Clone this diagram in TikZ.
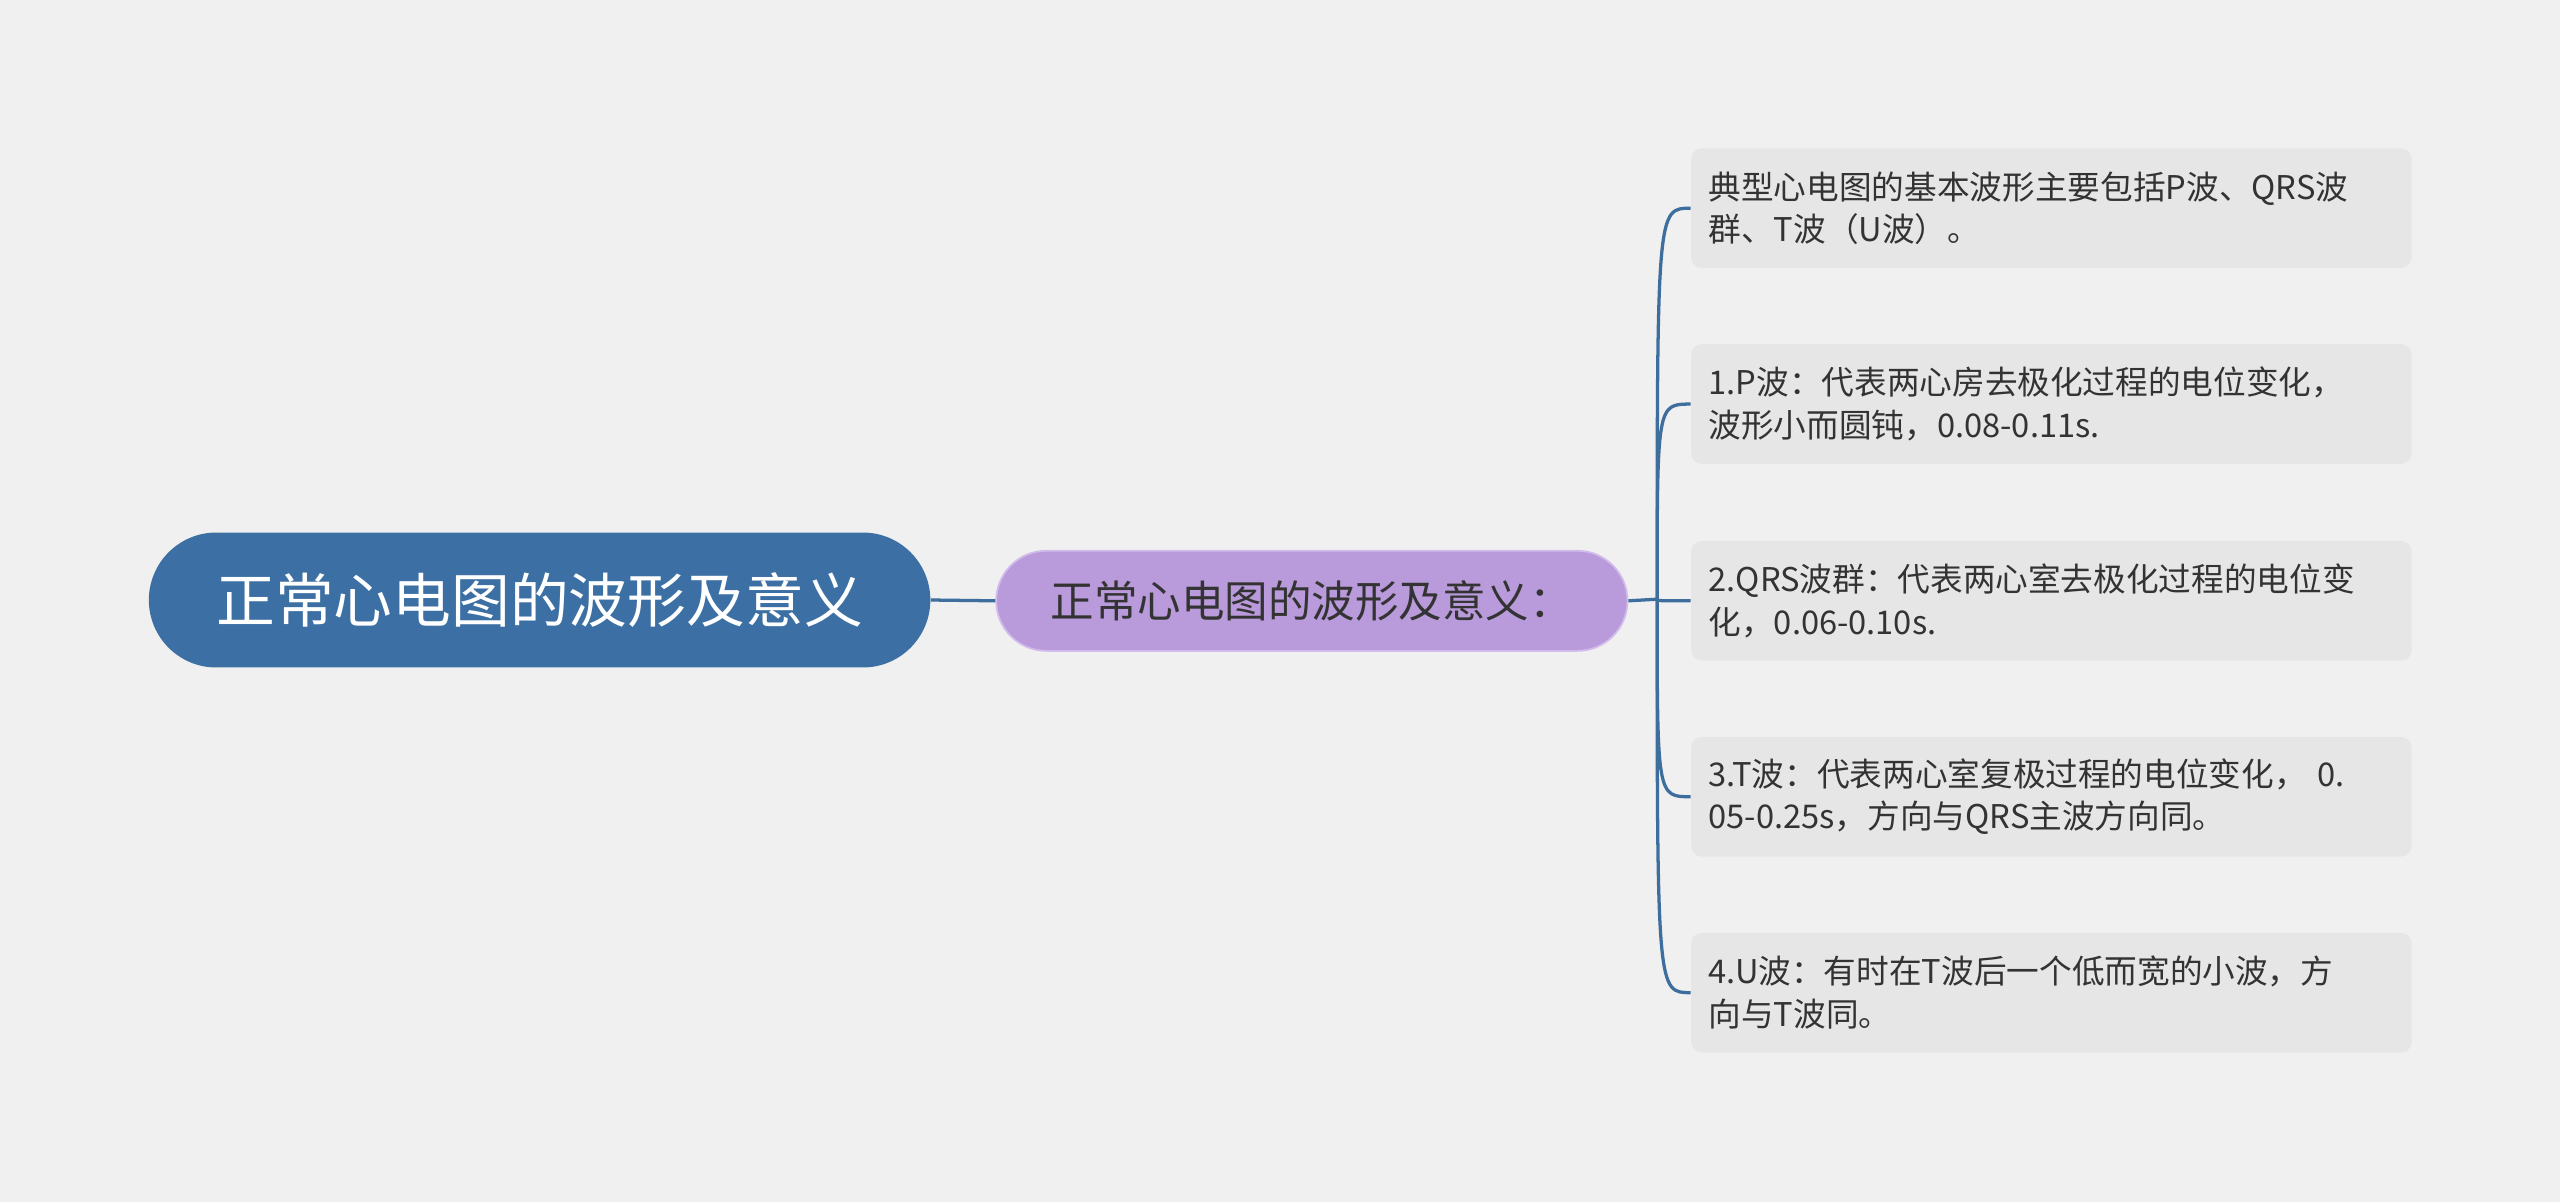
\documentclass[tikz,border=0pt]{standalone}
\usepackage{fontspec}
\newfontfamily\cjk{Noto Sans CJK SC}
\definecolor{bg}{HTML}{F0F0F0}
\definecolor{rootc}{HTML}{3C70A4}
\definecolor{linec}{HTML}{3D6E9E}
\definecolor{midc}{HTML}{B99ADB}
\definecolor{midb}{HTML}{D2BCEB}
\definecolor{leafc}{HTML}{E6E6E6}
\definecolor{txt}{HTML}{333333}
\begin{document}
\begin{tikzpicture}[x=0.75pt,y=-0.75pt,
  rootbox/.style={rounded corners=31pt,fill=rootc,text=white,font=\cjk\fontsize{27}{32}\selectfont,minimum width=359pt,minimum height=62pt,inner sep=0pt},
  midbox/.style={rounded corners=23pt,fill=midc,draw=midb,line width=0.8pt,text=txt,font=\cjk\fontsize{20}{24}\selectfont,minimum width=290pt,minimum height=46pt,inner sep=0pt},
  leafbox/.style={rounded corners=5pt,fill=leafc,text=txt,font=\cjk\fontsize{15}{19.5}\selectfont,minimum width=331pt,minimum height=55pt,inner sep=0pt,text width=315pt,align=left},
  conn/.style={draw=linec,line width=1.5pt}]
\fill[bg] (0,0) rectangle (1568,736);
\node[rootbox] (root) at (330.5,367.5) {正常心电图的波形及意义};
\node[midbox] (mid) at (803.5,368) {正常心电图的波形及意义：};
\draw[conn] (root.east) -- (mid.west);
\coordinate (hub) at (1015,367);
\draw[conn] (mid.east) -- (hub);
\foreach \i/\y/\t in {
 1/127.5/{典型心电图的基本波形主要包括P波、QRS波\\群、T波（U波）。},
 2/247.5/{1.P波：代表两心房去极化过程的电位变化，\\波形小而圆钝，0.08-0.11s.},
 3/368/{2.QRS波群：代表两心室去极化过程的电位变\\化，0.06-0.10s.},
 4/488/{3.T波：代表两心室复极过程的电位变化，\ 0.\\05-0.25s，方向与QRS主波方向同。},
 5/608/{4.U波：有时在T波后一个低而宽的小波，方\\向与T波同。}}{
 \node[leafbox] (l\i) at (1256.5,\y) {\t};
 \draw[conn] (hub) .. controls (1015,\y) and (1015,\y) .. (l\i.west);
}
\end{tikzpicture}
\end{document}
